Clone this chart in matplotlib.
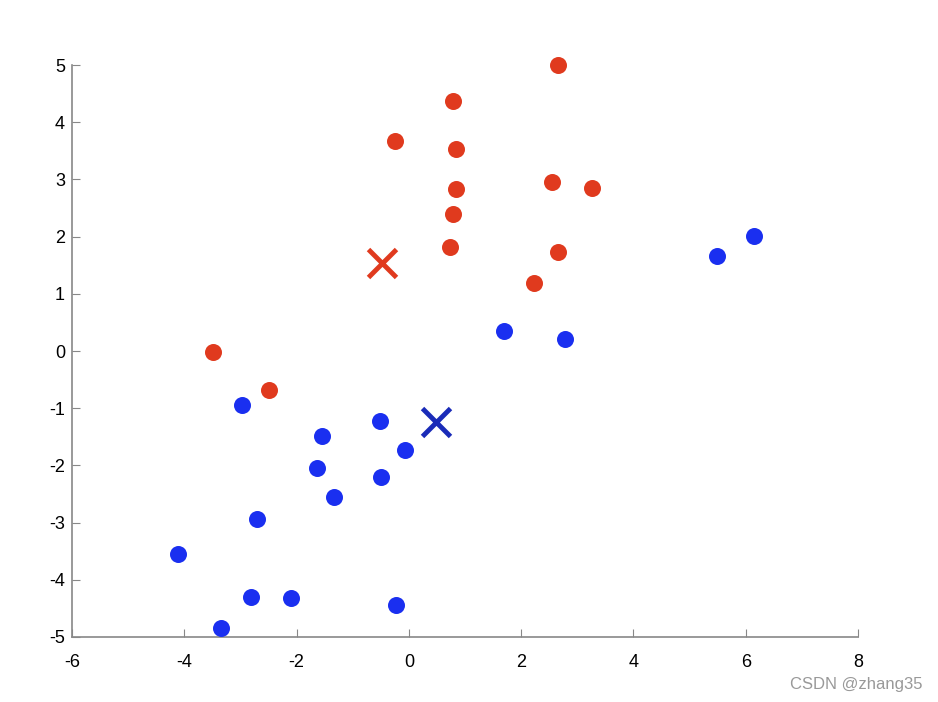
import matplotlib.pyplot as plt
import numpy as np

plt.rcParams['font.family'] = ['Liberation Sans', 'DejaVu Sans']
plt.rcParams['axes.unicode_minus'] = False

red_x = [2.65, 0.78, -0.25, 0.84, 0.84, 2.55, 3.26, 0.78, 0.73, 2.65, 2.23, -3.49, -2.49]
red_y = [5.0, 4.37, 3.67, 3.53, 2.83, 2.95, 2.85, 2.40, 1.82, 1.73, 1.19, -0.02, -0.68]

blue_x = [6.15, 5.49, 1.69, 2.78, -2.97, -0.52, -1.55, -0.07, -1.64, -0.50, -1.34, -2.71, -4.11, -2.81, -2.10, -0.23, -3.35]
blue_y = [2.01, 1.66, 0.35, 0.21, -0.94, -1.22, -1.49, -1.73, -2.05, -2.20, -2.55, -2.94, -3.55, -4.30, -4.32, -4.44, -4.84]

centroid_red = (-0.48, 1.54)
centroid_blue = (0.48, -1.24)

red = '#e03a1e'
blue = '#1a2ff0'
dark_blue = '#1a2bb8'

fig = plt.figure(figsize=(9.38, 7.02), dpi=100)
ax = fig.add_axes([0.0768, 0.0926, 0.8379, 0.8148])

ax.scatter(red_x, red_y, s=150, color=red, zorder=3, linewidths=0, clip_on=False)
ax.scatter(blue_x, blue_y, s=150, color=blue, zorder=3, linewidths=0, clip_on=False)
ax.plot(*centroid_red, marker='x', markersize=20, mew=3.5, color=red, linestyle='none')
ax.plot(*centroid_blue, marker='x', markersize=20, mew=3.5, color=dark_blue, linestyle='none')

ax.set_xlim(-6, 8)
ax.set_ylim(-5, 5)
ax.set_xticks(np.arange(-6, 9, 2))
ax.set_yticks(np.arange(-5, 6, 1))
for s in ['top', 'right']:
    ax.spines[s].set_visible(False)
for s in ['left', 'bottom']:
    ax.spines[s].set_color('#888888')
    ax.spines[s].set_linewidth(1.2)
ax.tick_params(direction='in', length=6, color='#888888', labelsize=13)
ax.tick_params(axis='x', pad=12)
ax.tick_params(axis='y', pad=5)

fig.text(0.983, 0.025, 'CSDN @zhang35', ha='right', va='center', fontsize=12, color='#999999')

fig.savefig('out.png', dpi=100)
